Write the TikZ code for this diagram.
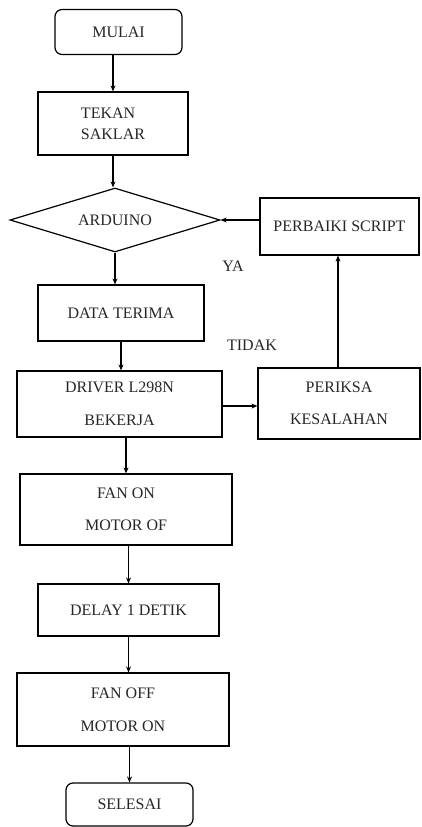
\documentclass[tikz,border=0pt]{standalone}
\usepackage{fontspec}
\setmainfont{Liberation Serif}
\usetikzlibrary{shapes.geometric,arrows.meta,calc}
\begin{document}
\begin{tikzpicture}[x=1pt,y=-1pt,
  every node/.style={font=\fontsize{16}{18}\selectfont, inner sep=0pt, text=black!85},
  box/.style={draw, line width=1.2pt, rectangle, align=center},
  term/.style={box, rounded corners=7pt},
  dec/.style={draw, line width=1.2pt, diamond, aspect=3.28},
  lbl/.style={},
  arr/.style={line width=1.2pt, -{Stealth[length=6pt,width=5pt]}}]
\useasboundingbox (0,0) rectangle (422,827);
\node[term, minimum width=127pt, minimum height=45pt] (mulai) at (118.5,32) {MULAI};
\node[box, minimum width=150pt, minimum height=63pt, align=left] (tekan) at (113,123.5) {TEKAN\\[3pt]SAKLAR};
\node[dec, minimum width=210pt, minimum height=64pt] (arduino) at (115,220) {ARDUINO};
\node[box, minimum width=159pt, minimum height=57pt] (perbaiki) at (339.5,226.5) {PERBAIKI SCRIPT};
\node[lbl] (ya) at (233,266) {YA};
\node[box, minimum width=166pt, minimum height=56pt] (data) at (121,313) {DATA TERIMA};
\node[lbl] (tidak) at (252,345) {TIDAK};
\node[box, minimum width=205pt, minimum height=66pt] (driver) at (119.5,404) {DRIVER L298N\\[15pt]BEKERJA};
\node[box, minimum width=162pt, minimum height=71pt] (periksa) at (339,403.5) {PERIKSA\\[14pt]KESALAHAN};
\node[box, minimum width=212pt, minimum height=71pt] (fanon) at (126,509.5) {FAN ON\\[14pt]MOTOR OF};
\node[box, minimum width=181pt, minimum height=52pt] (delay) at (128.5,610) {DELAY 1 DETIK};
\node[box, minimum width=212pt, minimum height=73pt] (fanoff) at (123,709.5) {FAN OFF\\[15pt]MOTOR ON};
\node[term, minimum width=127pt, minimum height=43pt] (selesai) at (129.5,804.5) {SELESAI};

\draw[arr] (mulai.south -| tekan.center) -- (tekan.north);
\draw[arr] (tekan.south) -- (tekan.south |- arduino.north);
\draw[arr] (arduino.south) -- (arduino.south |- data.north);
\draw[arr] (data.south) -- (data.south |- driver.north);
\draw[arr] (driver.south -| fanon.center) -- (fanon.north);
\draw[arr] (fanon.south -| delay.center) -- (delay.north);
\draw[arr] (delay.south) -- (delay.south |- fanoff.north);
\draw[arr] (fanoff.south -| selesai.center) -- (selesai.north);
\draw[arr] (driver.east |- 0,406) -- (periksa.west |- 0,406);
\draw[arr] (periksa.north -| 338,0) -- (perbaiki.south -| 338,0);
\draw[arr] (perbaiki.west |- arduino.east) -- (arduino.east);
\end{tikzpicture}
\end{document}
